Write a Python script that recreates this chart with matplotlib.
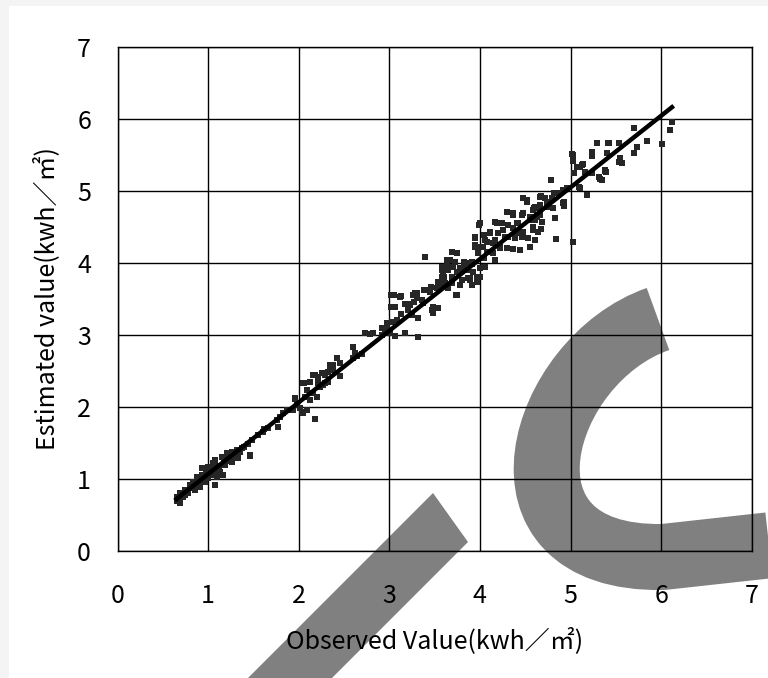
import numpy as np
import matplotlib
matplotlib.use("Agg")
import matplotlib.pyplot as plt
from matplotlib.path import Path
from matplotlib.patches import PathPatch, Polygon, Rectangle
from matplotlib.transforms import Affine2D

plt.rcParams['font.family'] = ['Noto Sans CJK JP', 'DejaVu Sans']

# observed / estimated daily irradiation (kwh/m2)
observed = [
    0.66, 0.66, 0.67, 0.69, 0.69, 0.72, 0.75, 0.78, 0.80, 0.83, 0.86, 0.88, 0.91, 0.93, 0.93,
    0.97, 1.00, 1.00, 1.05, 1.08, 1.08, 1.10, 1.13, 1.15, 1.16, 1.19, 1.21, 1.26, 1.26, 1.32,
    1.33, 1.37, 1.46, 1.46, 1.48, 1.55, 1.61, 1.62, 1.66,
    0.68, 0.70, 0.72, 0.74, 0.78, 0.82, 0.85, 0.86, 0.90, 0.95, 0.98, 1.02, 1.03, 1.06, 1.07,
    1.10, 1.12, 1.17, 1.20, 1.22, 1.27, 1.30, 1.35, 1.40, 1.44,
    1.76, 1.77, 1.79, 1.83, 1.87, 1.94, 1.96, 1.96, 1.98, 2.01, 2.04, 2.05, 2.05, 2.06, 2.07,
    2.09, 2.09, 2.12, 2.12, 2.16, 2.16, 2.18, 2.18, 2.20, 2.21, 2.21, 2.24, 2.26, 2.27, 2.29,
    2.29, 2.32, 2.32, 2.35, 2.35, 2.38, 2.38, 2.42, 2.46, 2.46, 2.60, 2.60, 2.62, 2.64, 2.70,
    2.73, 2.79, 2.82, 2.92, 2.92, 2.95, 2.97, 2.97, 2.97, 3.01, 3.02, 3.02, 3.03, 3.03, 3.05,
    3.06, 3.06, 3.09, 3.12, 3.13, 3.13, 3.17, 3.17, 3.21, 3.23, 3.23, 3.25, 3.26, 3.27, 3.28,
    3.31, 3.31, 3.32, 3.32, 3.36, 3.37, 3.37, 3.38, 3.39, 3.45, 3.45, 3.46, 3.47, 3.48, 3.48,
    3.52, 3.53, 3.54, 3.54, 3.56, 3.58, 3.58, 3.58, 3.58, 3.59, 3.60, 3.61, 3.64, 3.64, 3.65,
    3.65, 3.65, 3.67, 3.69, 3.69, 3.69, 3.70, 3.73, 3.74, 3.75, 3.75, 3.75, 3.78, 3.78, 3.80,
    3.80, 3.82, 3.82, 3.86, 3.87, 3.89, 3.89, 3.89, 3.91, 3.91, 3.91, 3.92, 3.95, 3.95, 3.95,
    3.95, 3.97, 3.97, 3.98, 3.98, 3.99, 4.00, 4.00, 4.00, 4.00, 4.03, 4.04, 4.04, 4.04, 4.06,
    4.06, 4.08, 4.08, 4.11, 4.11, 4.15, 4.15, 4.17, 4.17, 4.17, 4.19, 4.20, 4.22, 4.22, 4.24,
    4.26, 4.28, 4.30, 4.30, 4.31, 4.31, 4.36, 4.36, 4.37, 4.37, 4.39, 4.41, 4.41, 4.42, 4.44,
    4.47, 4.47, 4.47, 4.48, 4.48, 4.48, 4.52, 4.52, 4.53, 4.55, 4.55, 4.55, 4.59, 4.59, 4.59,
    4.60, 4.61, 4.61, 4.61, 4.63, 4.63, 4.64, 4.66, 4.66, 4.66, 4.66, 4.67, 4.67, 4.69, 4.72,
    4.74, 4.74, 4.78, 4.80, 4.81, 4.82, 4.83, 4.84, 4.85, 4.92, 4.92, 4.93, 4.93, 4.96, 5.02,
    5.03, 5.03, 5.03, 5.04, 5.07, 5.09, 5.10, 5.10, 5.13, 5.14, 5.16, 5.18, 5.24, 5.24, 5.24,
    5.29, 5.31, 5.33, 5.35, 5.38, 5.38, 5.39, 5.40, 5.41, 5.43, 5.53, 5.53, 5.55, 5.57, 5.70,
    5.70, 5.73, 5.84, 6.01, 6.10, 6.12,
]
estimated = [
    0.69, 0.75, 0.71, 0.80, 0.67, 0.75, 0.85, 0.80, 0.92, 0.96, 0.85, 1.03, 0.89, 1.15, 1.05,
    0.96, 1.17, 1.01, 1.22, 1.26, 0.92, 1.03, 1.10, 1.30, 1.05, 1.19, 1.36, 1.37, 1.24, 1.40,
    1.29, 1.43, 1.32, 1.33, 1.54, 1.61, 1.65, 1.69, 1.71,
    0.73, 0.76, 0.80, 0.78, 0.84, 0.88, 0.95, 0.92, 0.97, 1.02, 1.08, 1.10, 1.06, 1.14, 1.09,
    1.18, 1.14, 1.22, 1.25, 1.28, 1.31, 1.35, 1.37, 1.45, 1.48,
    1.82, 1.72, 1.86, 1.92, 1.96, 1.96, 2.11, 2.12, 2.03, 1.98, 1.93, 2.33, 1.92, 2.33, 2.14,
    2.23, 1.96, 2.35, 2.10, 2.44, 2.19, 1.83, 2.44, 2.14, 2.41, 2.33, 2.28, 2.47, 2.30, 2.44,
    2.33, 2.48, 2.35, 2.58, 2.55, 2.51, 2.58, 2.68, 2.61, 2.43, 2.83, 2.68, 2.75, 2.71, 2.73,
    3.03, 3.01, 3.03, 3.00, 3.10, 3.04, 3.14, 3.16, 3.11, 3.03, 3.55, 3.39, 3.18, 3.39, 3.55,
    3.39, 2.98, 3.21, 3.53, 3.54, 3.29, 3.43, 3.03, 3.34, 3.43, 3.41, 3.28, 3.55, 3.46, 3.58,
    3.58, 3.51, 3.23, 2.97, 3.48, 3.44, 3.44, 3.62, 4.08, 3.62, 3.59, 3.66, 3.34, 3.39, 3.30,
    3.37, 3.65, 3.73, 3.37, 3.72, 3.94, 3.80, 3.69, 3.90, 3.83, 3.80, 3.72, 4.04, 3.97, 3.94,
    3.65, 3.90, 4.04, 4.15, 3.72, 3.80, 3.94, 4.01, 3.55, 3.55, 4.13, 3.87, 3.93, 3.69, 3.90,
    3.76, 3.99, 4.01, 3.90, 3.79, 3.76, 3.79, 4.00, 3.99, 4.01, 3.69, 3.87, 4.34, 4.22, 4.36,
    4.25, 3.73, 3.79, 4.14, 3.80, 4.52, 4.22, 3.80, 3.93, 4.55, 4.22, 4.39, 4.07, 3.94, 4.32,
    3.94, 4.29, 4.15, 4.41, 4.43, 4.27, 4.14, 4.32, 4.04, 4.57, 4.55, 4.41, 4.22, 4.21, 4.55,
    4.46, 4.36, 4.71, 4.21, 4.36, 4.52, 4.69, 4.66, 4.19, 4.48, 4.34, 4.55, 4.41, 4.55, 4.18,
    4.66, 4.41, 4.36, 4.90, 4.43, 4.69, 4.87, 4.84, 4.34, 4.22, 4.64, 4.59, 4.46, 4.50, 4.73,
    4.76, 4.59, 4.32, 4.78, 4.66, 4.63, 4.43, 4.66, 4.91, 4.76, 4.80, 4.93, 4.47, 4.57, 4.90,
    4.85, 4.77, 5.15, 4.90, 4.76, 4.97, 4.62, 4.33, 4.97, 5.01, 4.83, 4.79, 4.85, 5.04, 5.51,
    4.29, 5.41, 5.50, 5.25, 5.33, 5.05, 5.33, 5.04, 5.36, 5.37, 5.26, 4.94, 5.54, 5.48, 5.25,
    5.66, 5.19, 5.16, 5.15, 5.28, 5.29, 5.26, 5.52, 5.66, 5.66, 5.66, 5.40, 5.45, 5.39, 5.52,
    5.87, 5.61, 5.69, 5.65, 5.84, 5.95,
]

# regression line end points
fit_x = [0.65, 6.12]
fit_y = [0.72, 6.16]

ticks = [0, 1, 2, 3, 4, 5, 6, 7]

fig = plt.figure(figsize=(7.68, 6.78), dpi=100)
fig.patch.set_facecolor('#f4f4f4')
fig.add_artist(Rectangle((9 / 768, 0), 1, 1 - 6 / 678, transform=fig.transFigure,
                         facecolor='white', edgecolor='none', zorder=-3))

# grey logo shapes behind the plot (pixel coordinates, origin top-left)
px = Affine2D().scale(1 / 768, -1 / 678).translate(0, 1) + fig.transFigure
c_path = Path([(658, 319), (540, 360), (480, 560), (663, 557), (790, 543)],
              [Path.MOVETO, Path.CURVE4, Path.CURVE4, Path.CURVE4, Path.LINETO])
c_mark = PathPatch(c_path, fill=False, edgecolor='#808080', linewidth=66 * 0.72,
                   transform=px, zorder=-1)
c_mark.set_capstyle('butt')
c_mark.set_joinstyle('round')
fig.add_artist(c_mark)
fig.add_artist(Polygon([(433, 493), (468, 542), (297, 713), (213, 713)], closed=True,
                       facecolor='#808080', edgecolor='none', transform=px, zorder=-1))

ax = fig.add_axes([117.5 / 768, 1 - 551 / 678, (751.7 - 117.5) / 768, (551 - 46.7) / 678])
ax.set_facecolor('none')
ax.scatter(observed, estimated, marker='s', s=22, color='#262626', linewidths=0, zorder=3)
ax.plot(fit_x, fit_y, color='black', linewidth=3.2, zorder=4)

ax.set_xlim(0, 7)
ax.set_ylim(0, 7)
ax.set_xticks(ticks)
ax.set_yticks(ticks)
ax.grid(True, color='black', linewidth=1.0)
ax.set_axisbelow(True)
for s in ax.spines.values():
    s.set_linewidth(1.0)
    s.set_color('black')
ax.tick_params(axis='x', length=0, pad=23, labelsize=18)
ax.tick_params(axis='y', length=0, pad=19, labelsize=18)

ax.set_xlabel('Observed Value(kwh／㎡)', fontsize=18, labelpad=13)
ax.set_ylabel('Estimated value(kwh／㎡)', fontsize=18, labelpad=12)

fig.savefig('out.png', dpi=100, facecolor=fig.get_facecolor())
